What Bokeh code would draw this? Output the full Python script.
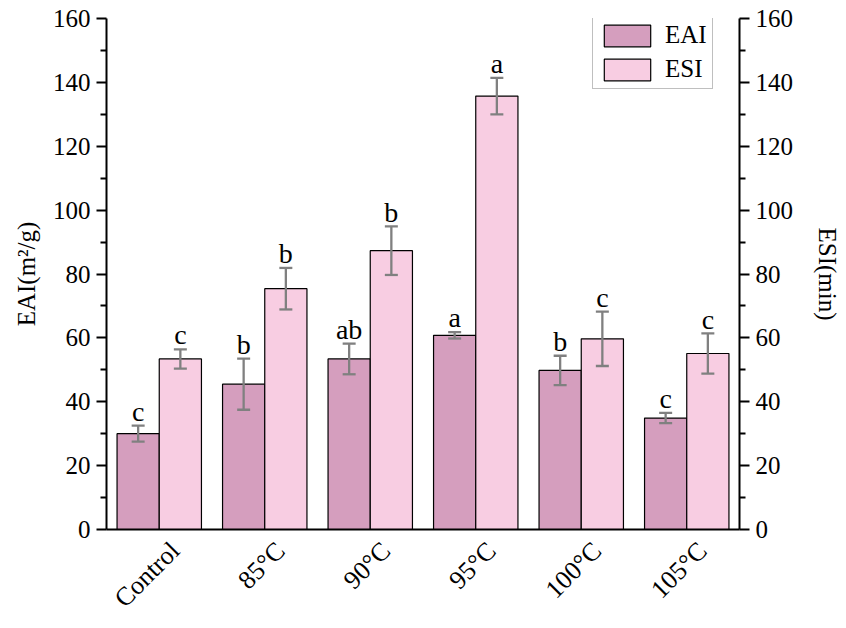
import math
from bokeh.plotting import figure
from bokeh.models import (ColumnDataSource, Range1d, LinearAxis, Whisker, TeeHead,
                          Legend, LegendItem, FixedTicker)
from bokeh.core.properties import value
from bokeh.embed import file_html
from bokeh.resources import INLINE

categories = ["Control", "85°C", "90°C", "95°C", "100°C", "105°C"]
eai = [30.0, 45.5, 53.4, 60.8, 49.8, 34.9]
eai_err = [2.5, 8.0, 4.8, 1.0, 4.6, 1.6]
esi = [53.4, 75.4, 87.3, 135.7, 59.7, 55.1]
esi_err = [3.0, 6.5, 7.6, 5.7, 8.5, 6.3]
eai_letters = ["c", "b", "ab", "a", "b", "c"]
esi_letters = ["c", "b", "b", "a", "c", "c"]
y_ticks = [0, 20, 40, 60, 80, 100, 120, 140, 160]

FONT = "Liberation Serif"
EAI_COLOR = "#D59EBE"
ESI_COLOR = "#F8CDE2"
ERR_COLOR = "#808080"
LABEL_PAD = 2.0  # data units between error-bar cap and letter

idx = list(range(len(categories)))
x_eai = [i - 0.2 for i in idx]
x_esi = [i + 0.2 for i in idx]


def make_src(xs, vals, errs, labs):
    up = [v + e for v, e in zip(vals, errs)]
    return ColumnDataSource(dict(x=xs, top=vals, upper=up,
                                 lower=[v - e for v, e in zip(vals, errs)],
                                 ly=[u + LABEL_PAD for u in up], lab=labs))


src_eai = make_src(x_eai, eai, eai_err, eai_letters)
src_esi = make_src(x_esi, esi, esi_err, esi_letters)

W, H = 844, 626
p = figure(width=W, height=H, output_backend="svg", toolbar_location=None,
           x_range=Range1d(-0.5, 5.5), y_range=Range1d(0, 160),
           min_border_left=106, min_border_right=W - 741, min_border_top=18,
           min_border_bottom=H - 529)
p.extra_y_ranges = {"right": Range1d(0, 160)}
p.grid.visible = False
p.outline_line_color = None
p.background_fill_color = "white"
p.border_fill_color = "white"

r1 = p.vbar(x="x", top="top", width=0.4, source=src_eai, fill_color=EAI_COLOR,
            line_color="black", line_width=1.2)
r2 = p.vbar(x="x", top="top", width=0.4, source=src_esi, fill_color=ESI_COLOR,
            line_color="black", line_width=1.2)

for src in (src_eai, src_esi):
    w = Whisker(base="x", upper="upper", lower="lower", source=src, level="overlay",
                line_color=ERR_COLOR, line_width=2.3,
                upper_head=TeeHead(size=13, line_color=ERR_COLOR, line_width=2.3),
                lower_head=TeeHead(size=13, line_color=ERR_COLOR, line_width=2.3))
    p.add_layout(w)
    p.text(x="x", y="ly", text="lab", source=src, text_align="center",
           text_baseline="alphabetic", y_offset=-8, text_font=value(FONT),
           text_font_size="28px", text_color="black")

# axes
ax = p.xaxis[0]
label_shift = 0.15
ax.ticker = FixedTicker(ticks=[i + label_shift for i in idx])
ax.major_label_overrides = {i + label_shift: c for i, c in zip(idx, categories)}
ax.major_label_orientation = math.pi / 4
ax.major_tick_out = 0
ax.major_tick_in = 0
ax.minor_tick_out = 0
ax.minor_tick_in = 0
ax.axis_line_width = 2
ax.major_label_text_font = FONT
ax.major_label_text_font_size = "26px"
ax.major_label_text_color = "black"
ax.major_label_standoff = 17

ly = p.yaxis[0]
ly.ticker = FixedTicker(ticks=y_ticks, minor_ticks=list(range(10, 160, 20)))
ly.axis_label = "EAI(m²/g)"
ry = LinearAxis(y_range_name="right",
                ticker=FixedTicker(ticks=y_ticks, minor_ticks=list(range(10, 160, 20))),
                axis_label="ESI(min)")
p.add_layout(ry, "right")
for a in (ly, ry):
    a.axis_line_width = 2
    a.major_tick_out = 10
    a.major_tick_in = 0
    a.minor_tick_out = 6
    a.minor_tick_in = 0
    a.major_tick_line_width = 2
    a.minor_tick_line_width = 2
    a.major_label_text_font = FONT
    a.major_label_text_font_size = "25px"
    a.major_label_text_color = "black"
    a.major_label_standoff = 6
    a.axis_label_text_font = FONT
    a.axis_label_text_font_size = "25px"
    a.axis_label_text_font_style = "normal"
    a.axis_label_text_color = "black"
    a.axis_label_standoff = 10
ry.axis_label_standoff = 18

legend = Legend(items=[LegendItem(label="EAI", renderers=[r1]),
                       LegendItem(label="ESI", renderers=[r2])],
                location=(486, 440), glyph_width=58, glyph_height=27,
                label_height=27, label_standoff=9, spacing=6, padding=5,
                margin=0, border_line_color="#808080", border_line_width=1,
                label_text_font=FONT, label_text_font_size="25px",
                label_text_color="black", background_fill_alpha=1)
p.add_layout(legend, "center")

open("out.html", "w").write(file_html(p, INLINE))
